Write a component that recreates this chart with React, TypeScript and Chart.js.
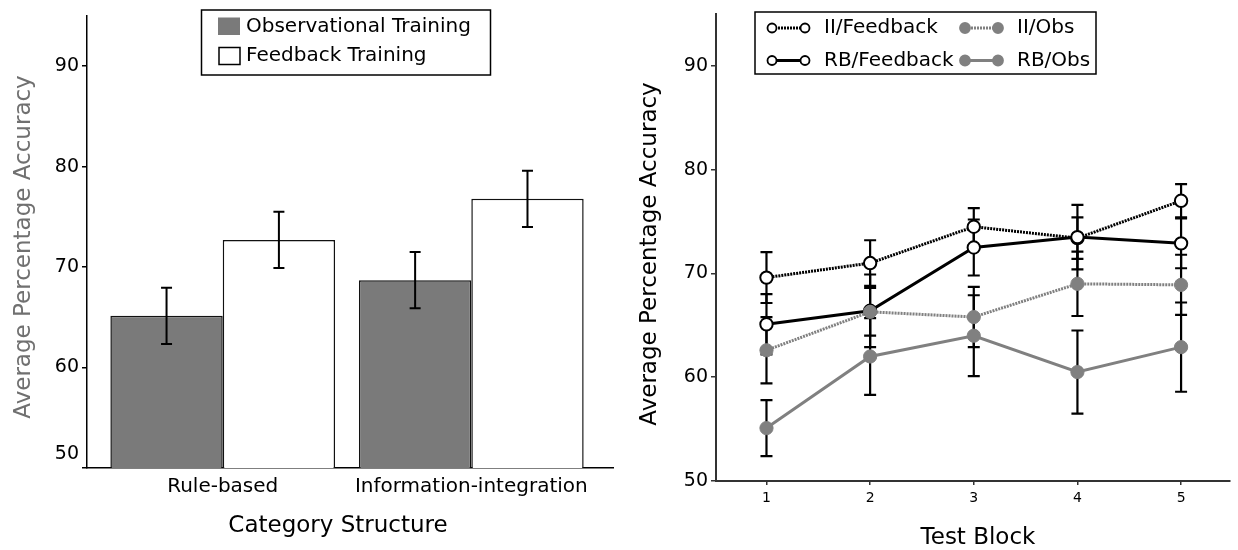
import React, { useEffect, useRef } from "react";
import { Chart, registerables } from "chart.js";

Chart.register(...registerables);

const FONT = "'DejaVu Sans', 'Lucida Grande', sans-serif";

// ---------- left panel data ----------
const CATEGORIES = ["Rule-based", "Information-integration"];
const CATEGORY_POS = [1, 2];
const BAR_SERIES = ["Observational Training", "Feedback Training"];
const OBS_MEAN = [65.15, 68.7];
const OBS_SE = [2.8, 2.8];
const FB_MEAN = [72.7, 76.8];
const FB_SE = [2.8, 2.8];
const ACC_TICKS = [50, 60, 70, 80, 90];

// ---------- right panel data ----------
const BLOCKS = [1, 2, 3, 4, 5];
const LINE_SERIES = ["II/Feedback", "RB/Feedback", "II/Obs", "RB/Obs"];
const II_FB = [69.6, 71.0, 74.5, 73.4, 77.0];
const II_FB_SE = [2.45, 2.2, 1.8, 2.0, 1.6];
const RB_FB = [65.1, 66.4, 72.5, 73.5, 72.9];
const RB_FB_SE = [2.9, 3.5, 2.7, 3.1, 2.4];
const II_OBS = [62.6, 66.3, 65.8, 69.0, 68.9];
const II_OBS_SE = [3.2, 2.3, 2.9, 3.1, 2.9];
const RB_OBS = [55.1, 62.0, 64.0, 60.5, 62.9];
const RB_OBS_SE = [2.7, 3.7, 3.9, 4.0, 4.3];

const Y_TITLE = "Average Percentage Accuracy";
const X_TITLE_LEFT = "Category Structure";
const X_TITLE_RIGHT = "Test Block";

const BAR_GRAY = "#7a7a7a";
const LINE_GRAY = "#808080";

function pts(xs: number[], ys: number[]) {
  return xs.map((x, i) => ({ x, y: ys[i] }));
}

function drawErrorBars(chart: any, lw: number, cap: number, color: string) {
  const { ctx } = chart;
  const yScale = chart.scales.y;
  ctx.save();
  ctx.strokeStyle = color;
  ctx.lineWidth = lw;
  ctx.lineCap = "butt";
  chart.data.datasets.forEach((ds: any, di: number) => {
    const se: number[] | undefined = ds.errorBars;
    if (!se) return;
    const meta = chart.getDatasetMeta(di);
    meta.data.forEach((el: any, i: number) => {
      const p = ds.data[i];
      const x = el.x;
      const top = yScale.getPixelForValue(p.y + se[i]);
      const bot = yScale.getPixelForValue(p.y - se[i]);
      ctx.beginPath();
      ctx.moveTo(x, top);
      ctx.lineTo(x, bot);
      ctx.moveTo(x - cap, top);
      ctx.lineTo(x + cap, top);
      ctx.moveTo(x - cap, bot);
      ctx.lineTo(x + cap, bot);
      ctx.stroke();
    });
  });
  ctx.restore();
}

function drawText(ctx: CanvasRenderingContext2D, text: string, x: number, y: number, size: number, color: string, rotate = false, align: CanvasTextAlign = "center") {
  ctx.save();
  ctx.font = `${size}px ${FONT}`;
  ctx.fillStyle = color;
  ctx.textAlign = align;
  ctx.textBaseline = "middle";
  ctx.translate(x, y);
  if (rotate) ctx.rotate(-Math.PI / 2);
  ctx.fillText(text, 0, 0);
  ctx.restore();
}

function BarPanel() {
  const ref = useRef<HTMLCanvasElement>(null);
  useEffect(() => {
    const canvas = ref.current!;
    const errPlugin = {
      id: "errLeft",
      afterDatasetsDraw(chart: any) {
        drawErrorBars(chart, 2, 5.5, "#000");
      },
    };
    const decor = {
      id: "decorLeft",
      afterDraw(chart: any) {
        const ctx: CanvasRenderingContext2D = chart.ctx;
        const y = chart.scales.y;
        // bottom tick label sits raised above the axis corner
        drawText(ctx, String(ACC_TICKS[0]), 79, y.getPixelForValue(ACC_TICKS[0]) - 14, 19, "#000", false, "right");
        drawText(ctx, Y_TITLE, 24, 247, 23, "#707070", true);
        drawText(ctx, X_TITLE_LEFT, 338, 526, 23, "#000");
        // legend
        ctx.save();
        ctx.fillStyle = "#fff";
        ctx.fillRect(201.5, 10, 289, 65);
        ctx.strokeStyle = "#000";
        ctx.lineWidth = 1.5;
        ctx.strokeRect(201.5, 10, 289, 65);
        const ds = chart.data.datasets;
        ctx.fillStyle = ds[0].backgroundColor;
        ctx.fillRect(218, 17.5, 22, 17.5);
        ctx.fillStyle = ds[1].backgroundColor;
        ctx.fillRect(219, 47.5, 21, 17);
        ctx.strokeStyle = "#000";
        ctx.lineWidth = 1.5;
        ctx.strokeRect(219, 47.5, 21, 17);
        ctx.restore();
        drawText(ctx, ds[0].label, 246, 26.5, 20, "#000", false, "left");
        drawText(ctx, ds[1].label, 246, 55.5, 20, "#000", false, "left");
      },
    };
    const chart = new Chart(canvas, {
      type: "bar",
      data: {
        datasets: [
          {
            label: BAR_SERIES[0],
            data: pts(CATEGORY_POS, OBS_MEAN),
            backgroundColor: BAR_GRAY,
            borderColor: "#111",
            borderWidth: 1.5,
            categoryPercentage: 0.904,
            barPercentage: 1,
            errorBars: OBS_SE,
          } as any,
          {
            label: BAR_SERIES[1],
            data: pts(CATEGORY_POS, FB_MEAN),
            backgroundColor: "#ffffff",
            borderColor: "#111",
            borderWidth: 1.5,
            categoryPercentage: 0.904,
            barPercentage: 1,
            errorBars: FB_SE,
          } as any,
        ],
      },
      options: {
        animation: false,
        responsive: false,
        events: [],
        layout: { padding: { left: 0, top: 16, right: 7, bottom: 0 } },
        plugins: { legend: { display: false }, tooltip: { enabled: false }, title: { display: false } },
        scales: {
          x: {
            type: "linear",
            offset: false,
            min: 0.454,
            max: 2.57,
            afterBuildTicks: (s: any) => {
              s.ticks = CATEGORY_POS.map((v) => ({ value: v }));
            },
            afterFit: (s: any) => {
              s.height = 82;
              s.paddingLeft = 0;
              s.paddingRight = 0;
            },
            ticks: {
              callback: (v: any) => {
                const i = CATEGORY_POS.indexOf(Number(v));
                return i >= 0 ? CATEGORIES[i] : "";
              },
              font: { family: FONT, size: 20 },
              color: "#000",
              padding: 7,
              maxRotation: 0,
              autoSkip: false,
            },
            grid: { display: false, drawTicks: false, offset: false },
            border: { display: true, color: "#000", width: 1.5 },
          },
          y: {
            type: "linear",
            min: 50,
            max: 95,
            afterBuildTicks: (s: any) => {
              s.ticks = ACC_TICKS.map((v) => ({ value: v }));
            },
            afterFit: (s: any) => {
              s.width = 87;
              s.paddingTop = 0;
              s.paddingBottom = 0;
            },
            ticks: {
              callback: (v: any) => (Number(v) === ACC_TICKS[0] ? "" : String(v)),
              font: { family: FONT, size: 19 },
              color: "#000",
              padding: 3,
            },
            grid: { drawOnChartArea: false, drawTicks: true, tickLength: 5, color: "#000", lineWidth: 1.5 },
            border: { display: true, color: "#000", width: 1.5 },
          },
        },
      } as any,
      plugins: [errPlugin, decor],
    });
    return () => chart.destroy();
  }, []);
  return <canvas ref={ref} width={620} height={550} style={{ position: "absolute", left: 0, top: 0 }} />;
}

function LinePanel() {
  const ref = useRef<HTMLCanvasElement>(null);
  useEffect(() => {
    const canvas = ref.current!;
    const errPlugin = {
      id: "errRight",
      beforeDatasetsDraw(chart: any) {
        drawErrorBars(chart, 2.2, 6, "#000");
      },
    };
    const legendLayout = [
      { ds: 0, x1: 152, x2: 185, tx: 204, y: 28 },
      { ds: 2, x1: 345, x2: 378, tx: 397, y: 28 },
      { ds: 1, x1: 152, x2: 185, tx: 204, y: 60.5 },
      { ds: 3, x1: 345, x2: 378, tx: 397, y: 60.5 },
    ];
    const decor = {
      id: "decorRight",
      afterDraw(chart: any) {
        const ctx: CanvasRenderingContext2D = chart.ctx;
        drawText(ctx, Y_TITLE, 30, 254, 23, "#000", true);
        drawText(ctx, X_TITLE_RIGHT, 358, 538, 23, "#000");
        ctx.save();
        ctx.fillStyle = "#fff";
        ctx.fillRect(135, 12, 341, 62);
        ctx.strokeStyle = "#000";
        ctx.lineWidth = 1.5;
        ctx.strokeRect(135, 12, 341, 62);
        ctx.restore();
        legendLayout.forEach((e) => {
          const ds = chart.data.datasets[e.ds];
          ctx.save();
          ctx.strokeStyle = ds.borderColor;
          ctx.lineWidth = 3;
          ctx.setLineDash(ds.borderDash || []);
          ctx.beginPath();
          ctx.moveTo(e.x1, e.y);
          ctx.lineTo(e.x2, e.y);
          ctx.stroke();
          ctx.setLineDash([]);
          const filled = ds.pointBackgroundColor !== "#ffffff";
          [e.x1, e.x2].forEach((cx) => {
            ctx.beginPath();
            ctx.arc(cx, e.y, filled ? 5 : 4.5, 0, Math.PI * 2);
            ctx.fillStyle = ds.pointBackgroundColor;
            ctx.fill();
            ctx.lineWidth = 1.8;
            ctx.strokeStyle = ds.pointBorderColor;
            ctx.stroke();
          });
          ctx.restore();
          drawText(ctx, ds.label, e.tx, e.y, 20, "#000", false, "left");
        });
      },
    };
    const mk = (label: string, ys: number[], se: number[], color: string, fill: string, dash: number[], order: number) =>
      ({
        label,
        data: pts(BLOCKS, ys),
        borderColor: color,
        borderWidth: 3,
        borderDash: dash,
        tension: 0,
        pointRadius: fill === "#ffffff" ? 6.2 : 6.6,
        pointBorderWidth: fill === "#ffffff" ? 2 : 1,
        pointBackgroundColor: fill,
        pointBorderColor: color,
        order,
        errorBars: se,
      } as any);
    const chart = new Chart(canvas, {
      type: "line",
      data: {
        datasets: [
          mk(LINE_SERIES[0], II_FB, II_FB_SE, "#000", "#ffffff", [2, 1], 4),
          mk(LINE_SERIES[1], RB_FB, RB_FB_SE, "#000", "#ffffff", [], 3),
          mk(LINE_SERIES[2], II_OBS, II_OBS_SE, LINE_GRAY, LINE_GRAY, [2, 1], 2),
          mk(LINE_SERIES[3], RB_OBS, RB_OBS_SE, LINE_GRAY, LINE_GRAY, [], 1),
        ],
      },
      options: {
        animation: false,
        responsive: false,
        events: [],
        layout: { padding: { left: 0, top: 14, right: 0, bottom: 0 } },
        plugins: { legend: { display: false }, tooltip: { enabled: false }, title: { display: false } },
        scales: {
          x: {
            type: "linear",
            min: 0.513,
            max: 5.47,
            afterBuildTicks: (s: any) => {
              s.ticks = BLOCKS.map((v) => ({ value: v }));
            },
            afterFit: (s: any) => {
              s.height = 69;
              s.paddingLeft = 0;
              s.paddingRight = 0;
            },
            ticks: {
              callback: (v: any) => String(v),
              font: { family: FONT, size: 14 },
              color: "#000",
              padding: 5,
              maxRotation: 0,
              autoSkip: false,
            },
            grid: { drawOnChartArea: false, drawTicks: true, tickLength: 4, color: "#333", lineWidth: 1.5 },
            border: { display: true, color: "#333", width: 2 },
          },
          y: {
            type: "linear",
            min: 50,
            max: 95,
            afterBuildTicks: (s: any) => {
              s.ticks = ACC_TICKS.map((v) => ({ value: v }));
            },
            afterFit: (s: any) => {
              s.width = 96;
              s.paddingTop = 0;
              s.paddingBottom = 0;
            },
            ticks: {
              callback: (v: any) => String(v),
              font: { family: FONT, size: 19 },
              color: "#000",
              padding: 3,
            },
            grid: { drawOnChartArea: false, drawTicks: true, tickLength: 5, color: "#333", lineWidth: 1.5 },
            border: { display: true, color: "#333", width: 2 },
          },
        },
      } as any,
      plugins: [errPlugin, decor],
    });
    return () => chart.destroy();
  }, []);
  return <canvas ref={ref} width={618} height={550} style={{ position: "absolute", left: 620, top: 0 }} />;
}

export default function App() {
  return (
    <div
      style={{
        position: "fixed",
        left: 0,
        top: 0,
        width: 1238,
        height: 550,
        background: "#ffffff",
        overflow: "hidden",
      }}
    >
      <BarPanel />
      <LinePanel />
    </div>
  );
}
